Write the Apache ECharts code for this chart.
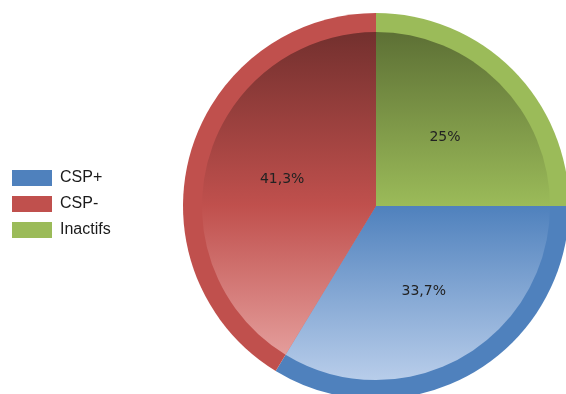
<!DOCTYPE html>
<html>
<head>
<meta charset="utf-8">
<script src="https://cdn.jsdelivr.net/npm/echarts@6/dist/echarts.min.js"></script>
<style>
  html, body { margin: 0; padding: 0; background: #fff; }
  #chart { width: 566px; height: 394px; }
</style>
</head>
<body>
<div id="chart"></div>
<script>
// slices in drawing order (clockwise from 12 o'clock)
const sliceNames = ['Inactifs', 'CSP+', 'CSP-']
const sliceValues = [25, 33.7, 41.3]
const legendOrder = ['CSP+', 'CSP-', 'Inactifs']

// couleurs : base, sombre (haut), clair (bas)
const baseColors = { 'CSP+': '#4f81bd', 'CSP-': '#c0504d', 'Inactifs': '#9bbb59' }
const darkColors = { 'CSP+': '#2f4d72', 'CSP-': '#73302e', 'Inactifs': '#5d7035' }
const lightColors = { 'CSP+': '#b8cdea', 'CSP-': '#eaaaa8', 'Inactifs': '#c5d89c' }

const center = [376, 206]
const outerR = 193
const innerR = 174

function gradientFor(name) {
  return {
    type: 'linear',
    global: true,
    x: 0, y: center[1] - innerR, x2: 0, y2: center[1] + innerR,
    colorStops: [
      { offset: 0, color: darkColors[name] },
      { offset: 0.5, color: baseColors[name] },
      { offset: 1, color: lightColors[name] }
    ]
  }
}

const chart = echarts.init(document.getElementById('chart'))

const option = {
  animation: false,
  backgroundColor: '#fff',
  legend: {
    orient: 'vertical',
    left: 12,
    top: 170,
    padding: 0,
    itemWidth: 40,
    itemHeight: 16,
    itemGap: 10,
    selectedMode: false,
    icon: 'rect',
    textStyle: {
      fontFamily: 'Liberation Sans, Arial, sans-serif',
      fontSize: 16,
      color: '#1a1a1a',
      padding: [0, 0, 0, 3]
    },
    data: legendOrder.map(n => ({ name: n, itemStyle: { color: baseColors[n] } }))
  },
  series: [
    {
      // anneau extérieur
      type: 'pie',
      center: center,
      radius: [0, outerR],
      startAngle: 90,
      silent: true,
      label: { show: false },
      labelLine: { show: false },
      data: sliceNames.map((n, i) => ({
        name: n,
        value: sliceValues[i],
        itemStyle: { color: baseColors[n] }
      }))
    },
    {
      // disque intérieur en dégradé
      type: 'pie',
      center: center,
      radius: [0, innerR],
      startAngle: 90,
      silent: true,
      label: { show: false },
      labelLine: { show: false },
      data: sliceNames.map((n, i) => ({
        name: n,
        value: sliceValues[i],
        itemStyle: { color: gradientFor(n) }
      }))
    },
    {
      // étiquettes seulement
      type: 'pie',
      center: center,
      radius: [0, outerR - 4],
      startAngle: 90,
      silent: true,
      z: 5,
      itemStyle: { color: 'transparent' },
      label: {
        show: true,
        position: 'inside',
        fontFamily: 'DejaVu Sans, sans-serif',
        fontSize: 14,
        color: '#222',
        formatter: p => String(p.value).replace('.', ',') + '%'
      },
      labelLine: { show: false },
      data: sliceNames.map((n, i) => ({ name: n, value: sliceValues[i] }))
    }
  ]
}

chart.setOption(option)
</script>
</body>
</html>
